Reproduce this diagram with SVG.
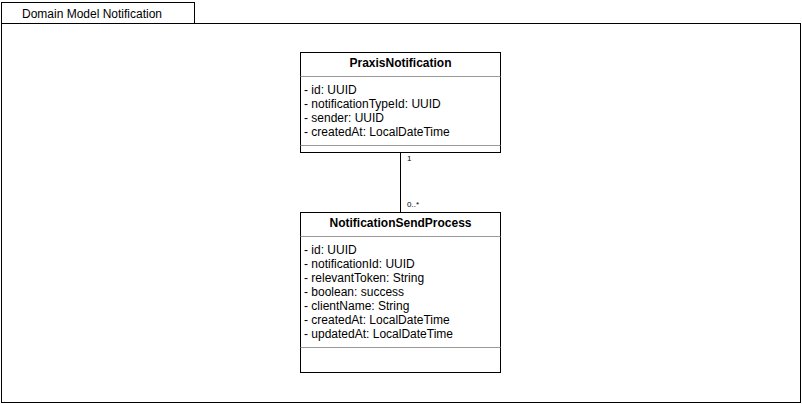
<svg xmlns="http://www.w3.org/2000/svg" width="802" height="404" viewBox="0 0 802 404">
<style>
.ln{fill:none;stroke:#000;stroke-width:1}
.box{fill:#fff;stroke:#000;stroke-width:1}
.div{stroke:#999;stroke-width:1}
text{font-family:"Liberation Sans",Arial,sans-serif;font-size:12px;fill:#000}
.t{font-weight:bold;text-anchor:middle}
.m{font-size:8px}
</style>
<rect width="802" height="404" fill="#fff"/>
<g id="frame">
<rect class="box" x="1.5" y="2.5" width="193" height="21"/>
<rect class="ln" x="1.5" y="23.5" width="799" height="379"/>
<text x="92" y="17.5" text-anchor="middle">Domain Model Notification</text>
</g>
<g id="connectors">
<line class="ln" x1="400.5" y1="152.5" x2="400.5" y2="212.5"/>
<text class="m" x="407" y="161">1</text>
<text class="m" x="407" y="207">0..*</text>
</g>
<g id="PraxisNotification">
<rect class="box" x="300.5" y="52.5" width="200" height="100"/>
<line class="div" x1="300.5" y1="76.5" x2="500.5" y2="76.5"/>
<line class="div" x1="300.5" y1="145.5" x2="500.5" y2="145.5"/>
<text class="t" x="400.5" y="67">PraxisNotification</text>
<text x="304" y="94">- id: UUID</text>
<text x="304" y="108">- notificationTypeId: UUID</text>
<text x="304" y="122">- sender: UUID</text>
<text x="304" y="136">- createdAt: LocalDateTime</text>
</g>
<g id="NotificationSendProcess">
<rect class="box" x="300.5" y="212.5" width="200" height="160"/>
<line class="div" x1="300.5" y1="236.5" x2="500.5" y2="236.5"/>
<line class="div" x1="300.5" y1="347.5" x2="500.5" y2="347.5"/>
<text class="t" x="400.5" y="227">NotificationSendProcess</text>
<text x="304" y="254">- id: UUID</text>
<text x="304" y="268">- notificationId: UUID</text>
<text x="304" y="282">- relevantToken: String</text>
<text x="304" y="296">- boolean: success</text>
<text x="304" y="310">- clientName: String</text>
<text x="304" y="324">- createdAt: LocalDateTime</text>
<text x="304" y="338">- updatedAt: LocalDateTime</text>
</g>
</svg>
